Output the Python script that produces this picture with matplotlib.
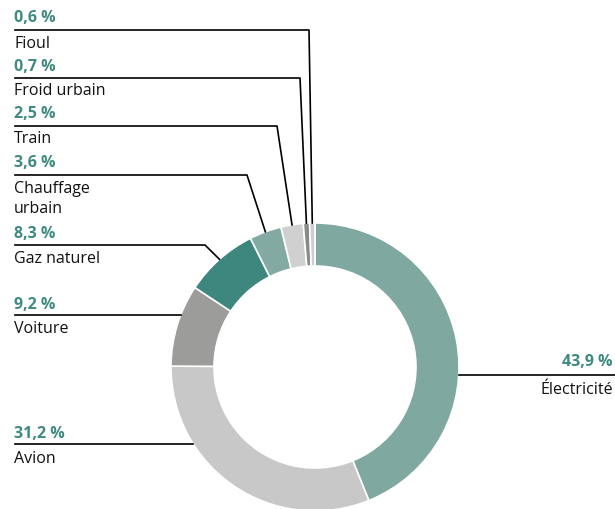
import matplotlib.pyplot as plt
import numpy as np

plt.rcParams['font.family'] = ['Open Sans', 'DejaVu Sans']

# data, clockwise from top
labels = ["Électricité", "Avion", "Voiture", "Gaz naturel", "Chauffage\nurbain", "Train", "Froid urbain", "Fioul"]
values = [43.9, 31.2, 9.2, 8.3, 3.6, 2.5, 0.7, 0.6]
colors = ["#7fa8a1", "#c8c8c8", "#9c9c9a", "#3d877f", "#82aaa3", "#d0d0d0", "#8a8a8a", "#cdcdcd"]

teal = "#3f8a80"
W, H = 615, 509
cx, cy = 315, 367
R, ring = 144, 43
fs = 11.5

fig = plt.figure(figsize=(W/100, H/100), dpi=100)
ax = fig.add_axes([0, 0, 1, 1])

def Y(y):
	return H - y

wedges, _ = ax.pie(values, colors=colors, startangle=90, counterclock=False,
	center=(cx, Y(cy)), radius=R,
	wedgeprops=dict(width=ring, edgecolor="white", linewidth=1.2))
ax.set_xlim(0, W)
ax.set_ylim(0, H)
ax.set_aspect('equal')
ax.axis('off')

# label layout: pct y, line y, label y, elbow x (None = straight horizontal)
layout = {
	"Fioul": (18, 30, 44, 309),
	"Froid urbain": (67, 78, 91, 300),
	"Train": (114, 126, 139, 277),
	"Chauffage\nurbain": (163, 175, 199, 247),
	"Gaz naturel": (234, 245, 259, 205),
	"Voiture": (305, 315, 329, None),
	"Avion": (434, 444, 459, None),
}

def fmt(v):
	return ("%.1f %%" % v).replace(".", ",")

for w, lab, v in zip(wedges, labels, values):
	if lab == "Électricité":
		ly = 375
		dy = ly - cy
		x0 = cx + np.sqrt(R**2 - dy**2)
		ax.plot([x0, 615], [Y(ly), Y(ly)], color="black", lw=1.2)
		ax.text(613, Y(362), fmt(v), color=teal, fontsize=fs, fontweight="bold", ha="right", va="center")
		ax.text(613, Y(390), lab, color="#111111", fontsize=fs, ha="right", va="center")
		continue
	py, ly, ty, ex = layout[lab]
	if ex is None:
		dy = ly - cy
		x1 = cx - np.sqrt(R**2 - dy**2)
		ax.plot([15, x1], [Y(ly), Y(ly)], color="black", lw=1.2)
	else:
		mid = np.deg2rad((w.theta1 + w.theta2) / 2)
		px = cx + R * np.cos(mid)
		py2 = Y(cy) + R * np.sin(mid)
		ax.plot([15, ex, px], [Y(ly), Y(ly), py2], color="black", lw=1.2)
	ax.text(14, Y(py), fmt(v), color=teal, fontsize=fs, fontweight="bold", ha="left", va="center")
	ax.text(14, Y(ty), lab, color="#111111", fontsize=fs, ha="left", va="center", linespacing=1.35)

fig.savefig("out.png", dpi=100)
